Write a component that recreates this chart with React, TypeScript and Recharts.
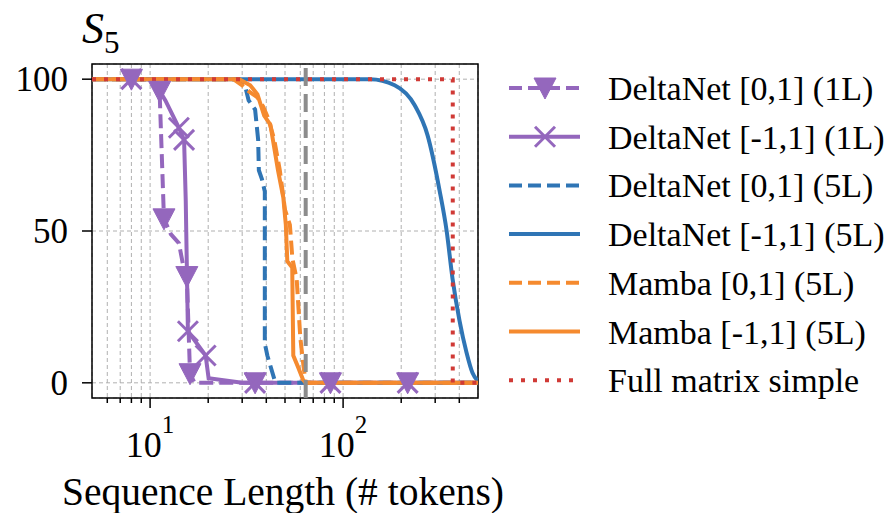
import { ComposedChart, Line, XAxis, YAxis, CartesianGrid, ReferenceLine, ReferenceArea } from 'recharts';

const FONT = 'Liberation Serif';

// MARK: - Axes

const xTicks = [6, 7, 8, 9, 10, 20, 30, 40, 50, 60, 70, 80, 90, 100, 200, 300, 400];
const xMajor = [10, 100];
const yTicks = [0, 50, 100];
const thresholdX = 64;

// MARK: - Series (x = sequence length, y = accuracy)

// DeltaNet [0,1] (1L)
const dn01_1L_x = [8, 10.7, 11.2, 11.8, 12.8, 14.1, 14.8, 15.5, 16.1, 17, 35, 86, 216, 500];
const dn01_1L_y = [100, 100, 96, 54, 49, 46, 39, 35, 3, 0, 0, 0, 0, 0];
const dn01_1L_marks = [8, 11.2, 11.8, 15.5, 16.1, 35, 86, 216];

// DeltaNet [-1,1] (1L)
const dn11_1L_x = [8, 10.3, 12.0, 14.1, 15.0, 15.3, 15.7, 19.4, 20.1, 30, 35, 86, 216, 500];
const dn11_1L_y = [100, 100, 93, 84, 80, 60, 17, 9, 1.5, 0, 0, 0, 0, 0];
const dn11_1L_marks = [8, 14.1, 15.0, 15.7, 19.4, 35, 86, 216];

// DeltaNet [0,1] (5L)
const dn01_5L_x = [5, 29, 31, 32.4, 35, 36.3, 36.6, 38, 39.3, 39.3, 40.5, 44.6, 500];
const dn01_5L_y = [100, 100, 98, 93, 90, 80, 70, 67, 63, 13, 9, 0, 0];

// DeltaNet [-1,1] (5L)
const dn11_5L_x = [5, 100, 138, 185, 235, 274, 316, 344, 369, 401, 436, 468, 497];
const dn11_5L_y = [100, 100, 100, 98, 91.4, 81.5, 63.4, 50, 34.3, 20.5, 10, 3.3, 0.7];

// Mamba [0,1] (5L)
const mb01_x = [5, 27, 30, 32.5, 36, 38.5, 41, 44, 47, 50, 53, 54.6, 57.5, 60, 62.2, 64, 500];
const mb01_y = [100, 100, 98, 96, 94, 91, 87, 80, 70, 57, 52, 41, 34, 15, 6, 0, 0];

// Mamba [-1,1] (5L)
const mb11_x = [5, 29, 33, 36, 39, 42, 46, 49, 50.5, 51.4, 54.5, 55.2, 58.6, 62, 64, 500];
const mb11_y = [100, 100, 98, 95, 88, 85, 70, 61, 52, 40, 38, 9, 5, 1, 0, 0];

// Full matrix simple
const full_x = [5, 370, 370, 500];
const full_y = [100, 100, 0, 0];

const PURPLE = '#9467bd';
const BLUE = '#2f75b5';
const ORANGE = '#f58a2f';
const RED = '#d03a36';

const toPoints = (xs: number[], ys: number[], marks: number[] = []) =>
    xs.map((x, i) => ({ x, y: ys[i], m: marks.includes(x) }));

// MARK: - Markers

const drawTriangle = (cx: number, cy: number, color: string, key?: any) => (
    <path key={key} d={`M${cx - 11},${cy - 10} L${cx + 11},${cy - 10} L${cx},${cy + 11} Z`} fill={color} stroke={color} strokeWidth={1} />
);

const drawCross = (cx: number, cy: number, color: string, key?: any) => (
    <g key={key} stroke={color} strokeWidth={3}>
        <line x1={cx - 10} y1={cy - 10} x2={cx + 10} y2={cy + 10} />
        <line x1={cx - 10} y1={cy + 10} x2={cx + 10} y2={cy - 10} />
    </g>
);

const triangleDot = (props: any) => {
    const { cx, cy, payload, index } = props;
    if (!payload?.m || cx == null) return <g key={index} />;
    return drawTriangle(cx, cy, PURPLE, index);
};

const crossDot = (props: any) => {
    const { cx, cy, payload, index } = props;
    if (!payload?.m || cx == null) return <g key={index} />;
    return drawCross(cx, cy, PURPLE, index);
};

// MARK: - Ticks

const XTick = (props: any) => {
    const { x, y, payload } = props;
    const v = payload.value;
    const major = xMajor.includes(v);
    return (
        <g>
            <line x1={x} x2={x} y1={y} y2={y + (major ? 10 : 5)} stroke="#000" strokeWidth={1.5} />
            {major && (
                <text x={x} y={y + 59} textAnchor="middle" fontSize={36} fontFamily={FONT} fill="#000">
                    10<tspan dy={-24} fontSize={25}>{Math.round(Math.log10(v))}</tspan>
                </text>
            )}
        </g>
    );
};

const YTick = (props: any) => {
    const { x, y, payload } = props;
    return (
        <text x={x} y={y + 12} textAnchor="end" fontSize={35} fontFamily={FONT} fill="#000">
            {payload.value}
        </text>
    );
};

const legendRows = [
    { name: 'DeltaNet [0,1] (1L)', color: PURPLE, dash: '13 6', marker: 'tri' },
    { name: 'DeltaNet [-1,1] (1L)', color: PURPLE, dash: undefined, marker: 'x' },
    { name: 'DeltaNet [0,1] (5L)', color: BLUE, dash: '13 6', marker: null },
    { name: 'DeltaNet [-1,1] (5L)', color: BLUE, dash: undefined, marker: null },
    { name: 'Mamba [0,1] (5L)', color: ORANGE, dash: '13 6', marker: null },
    { name: 'Mamba [-1,1] (5L)', color: ORANGE, dash: undefined, marker: null },
    { name: 'Full matrix simple', color: RED, dash: '4 8', marker: null },
];

const App = () => {
    return (
        <div style={{ position: 'absolute', left: 0, top: 0, width: 891, height: 513, background: '#fff', fontFamily: FONT }}>
            {/* warm up the serif face before the svg text is laid out */}
            <div style={{ position: 'absolute', left: 0, top: 0, fontFamily: FONT, fontSize: 20, color: '#fff', zIndex: -1 }}>
                S <i>S</i>
            </div>
            <ComposedChart width={891} height={513} margin={{ top: 64, right: 413, bottom: 0, left: 0 }}>
                <CartesianGrid stroke="#b0b0b0" strokeDasharray="4 3" strokeWidth={1} />
                <XAxis
                    dataKey="x"
                    type="number"
                    scale="log"
                    domain={[5, 500]}
                    allowDataOverflow
                    ticks={xTicks}
                    interval={0}
                    tick={<XTick />}
                    tickLine={false}
                    tickSize={0}
                    tickMargin={0}
                    axisLine={false}
                    height={115}
                    label={{
                        content: (p: any) => {
                            const vb = p.viewBox;
                            return (
                                <text x={vb.x + vb.width / 2 - 2} y={505} textAnchor="middle" fontSize={39.5} fontFamily={FONT} fill="#000">
                                    Sequence Length (# tokens)
                                </text>
                            );
                        },
                    }}
                />
                <YAxis
                    type="number"
                    domain={[-5, 105]}
                    ticks={yTicks}
                    width={92}
                    axisLine={false}
                    tickSize={10}
                    tickMargin={14}
                    tickLine={{ stroke: '#000', strokeWidth: 1.5 }}
                    tick={<YTick />}
                />

                <Line data={toPoints(dn01_1L_x, dn01_1L_y, dn01_1L_marks)} dataKey="y" type="linear" stroke={PURPLE} strokeWidth={4} strokeDasharray="14 6" dot={triangleDot} activeDot={false} isAnimationActive={false} />
                <Line data={toPoints(dn11_1L_x, dn11_1L_y, dn11_1L_marks)} dataKey="y" type="linear" stroke={PURPLE} strokeWidth={4} dot={crossDot} activeDot={false} isAnimationActive={false} />
                <Line data={toPoints(dn01_5L_x, dn01_5L_y)} dataKey="y" type="linear" stroke={BLUE} strokeWidth={4} strokeDasharray="14 6" dot={false} activeDot={false} isAnimationActive={false} />
                <Line data={toPoints(dn11_5L_x, dn11_5L_y)} dataKey="y" type="monotone" stroke={BLUE} strokeWidth={4} dot={false} activeDot={false} isAnimationActive={false} />
                <Line data={toPoints(mb01_x, mb01_y)} dataKey="y" type="linear" stroke={ORANGE} strokeWidth={4} strokeDasharray="14 6" dot={false} activeDot={false} isAnimationActive={false} />
                <Line data={toPoints(mb11_x, mb11_y)} dataKey="y" type="linear" stroke={ORANGE} strokeWidth={4} dot={false} activeDot={false} isAnimationActive={false} />
                <Line data={toPoints(full_x, full_y)} dataKey="y" type="linear" stroke={RED} strokeWidth={4} strokeDasharray="4 8" dot={false} activeDot={false} isAnimationActive={false} />

                <ReferenceLine x={thresholdX} stroke="#8c8c8c" strokeWidth={4} strokeDasharray="18 8" />
                <ReferenceArea x1={5} x2={500} y1={-5} y2={105} fill="none" fillOpacity={0} stroke="#000" strokeWidth={1.5} />
            </ComposedChart>

            {/* Title and legend */}
            <svg width={891} height={513} style={{ position: 'absolute', left: 0, top: 0, pointerEvents: 'none' }}>
                <text x={82} y={43} fontSize={44} fontFamily={FONT} fontStyle="italic" fill="#000">
                    S<tspan dy={10} fontSize={31} fontStyle="normal">5</tspan>
                </text>
                {legendRows.map((row, i) => {
                    const cy = 88 + i * 48.7;
                    return (
                        <g key={row.name}>
                            <line x1={509} x2={580} y1={cy} y2={cy} stroke={row.color} strokeWidth={4} strokeDasharray={row.dash} />
                            {row.marker === 'tri' && drawTriangle(545, cy, row.color)}
                            {row.marker === 'x' && drawCross(545, cy, row.color)}
                            <text x={608} y={cy + 12} fontSize={34} fontFamily={FONT} fill="#000">
                                {row.name}
                            </text>
                        </g>
                    );
                })}
            </svg>
        </div>
    );
};

export default App;
